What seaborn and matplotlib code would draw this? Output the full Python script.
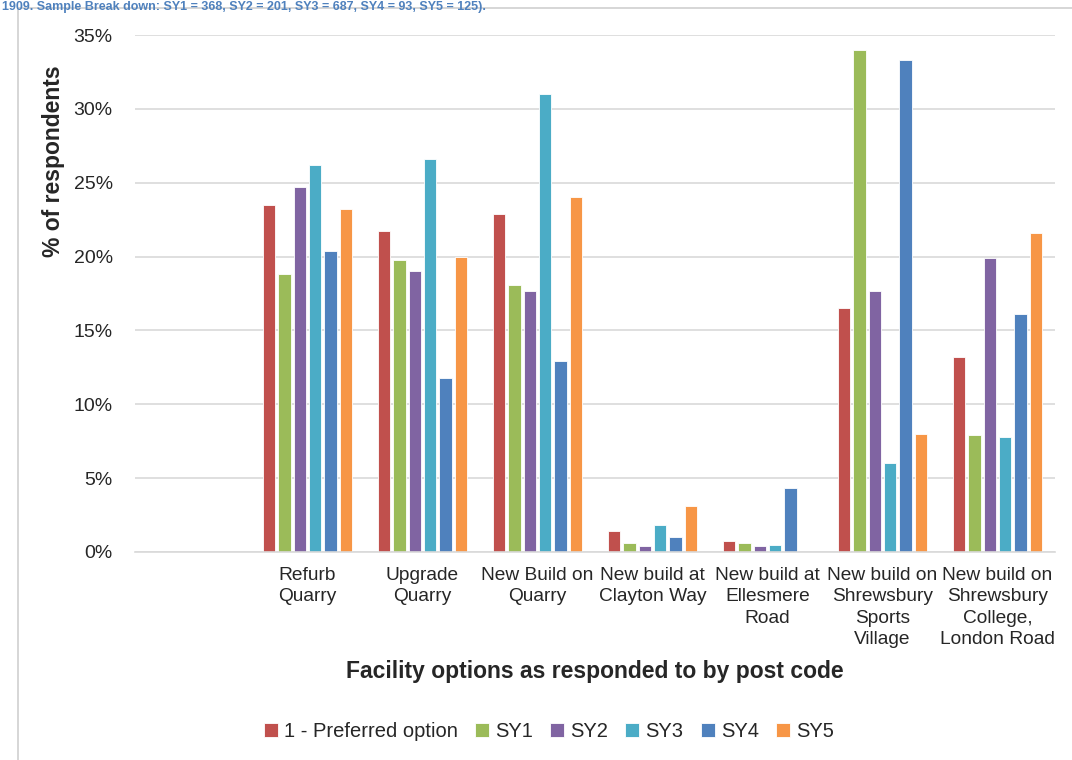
import pandas as pd
import numpy as np
import seaborn as sns
import matplotlib.pyplot as plt
from matplotlib.patches import Rectangle

categories = ["",
              "Refurb\nQuarry",
              "Upgrade\nQuarry",
              "New Build on\nQuarry",
              "New build at\nClayton Way",
              "New build at\nEllesmere\nRoad",
              "New build on\nShrewsbury\nSports\nVillage",
              "New build on\nShrewsbury\nCollege,\nLondon Road"]
series = ["1 - Preferred option", "SY1", "SY2", "SY3", "SY4", "SY5"]

preferred = [23.5, 21.7, 22.9, 1.4, 0.75, 16.5, 13.2]
sy1 = [18.8, 19.8, 18.1, 0.6, 0.6, 34.0, 7.9]
sy2 = [24.7, 19.0, 17.7, 0.4, 0.4, 17.7, 19.9]
sy3 = [26.2, 26.6, 31.0, 1.8, 0.45, 6.0, 7.8]
sy4 = [20.4, 11.8, 12.9, 1.0, 4.3, 33.3, 16.1]
sy5 = [23.2, 20.0, 24.0, 3.1, 0.0, 8.0, 21.6]

colors = ["#C0504D", "#9BBB59", "#8064A2", "#4BACC6", "#4F81BD", "#F79646"]

rows = []
for name, vals in zip(series, [preferred, sy1, sy2, sy3, sy4, sy5]):
    for cat, v in zip(categories[1:], vals):
        rows.append({"option": cat, "series": name, "pct": v})
df = pd.DataFrame(rows)

sns.set_style("white")
plt.rcParams['font.family'] = ['Liberation Sans', 'DejaVu Sans']

fig = plt.figure(figsize=(10.72, 7.6), dpi=100)
ax = fig.add_axes([135 / 1072, 1 - 552 / 760, 920 / 1072, 517 / 760])

sns.barplot(data=df, x="option", y="pct", hue="series", order=categories,
            hue_order=series, palette=colors, saturation=1, width=0.8, gap=0.2,
            edgecolor="white", linewidth=0.6, ax=ax, legend=True)

ax.set_ylim(0, 35)
ax.set_yticks(np.arange(0, 36, 5))
ax.set_yticklabels([f"{t}%" for t in range(0, 36, 5)], fontsize=14)
ax.set_xticks(range(len(categories)))
ax.set_xticklabels(categories, fontsize=13.8, linespacing=1.32)
ax.yaxis.grid(True, color="#D9D9D9", linewidth=1.2)
ax.set_axisbelow(True)
ax.tick_params(axis="x", length=0, pad=11)
ax.tick_params(axis="y", length=0, pad=16)
for s in ["top", "right", "left"]:
    ax.spines[s].set_visible(False)
ax.spines["bottom"].set_color("#D9D9D9")
ax.spines["bottom"].set_linewidth(1.2)

ax.set_xlabel("Facility options as responded to by post code", fontsize=16.5,
              fontweight="bold", labelpad=9)
ax.set_ylabel("% of respondents", fontsize=16.5, fontweight="bold")
ax.yaxis.set_label_coords(-0.076, 0.755)

handles, labels = ax.get_legend_handles_labels()
ax.get_legend().remove()
fig.legend(handles, labels, loc="center", bbox_to_anchor=(0.512, 0.038),
           ncol=6, frameon=False, fontsize=14.5, handlelength=0.7,
           handleheight=0.7, handletextpad=0.3, columnspacing=0.85)

fig.patches.append(Rectangle((18 / 1072, -0.05), 1.0, 1 - 8 / 760 + 0.05,
                             transform=fig.transFigure, fill=False,
                             edgecolor="#D0D0D0", linewidth=1.2))
fig.text(0.002, 0.999,
         "1909. Sample Break down: SY1 = 368, SY2 = 201, SY3 = 687, SY4 = 93, SY5 = 125).",
         fontsize=9, fontweight="bold", color="#4F81BD", va="top", ha="left")

fig.savefig("out.png", dpi=100)
